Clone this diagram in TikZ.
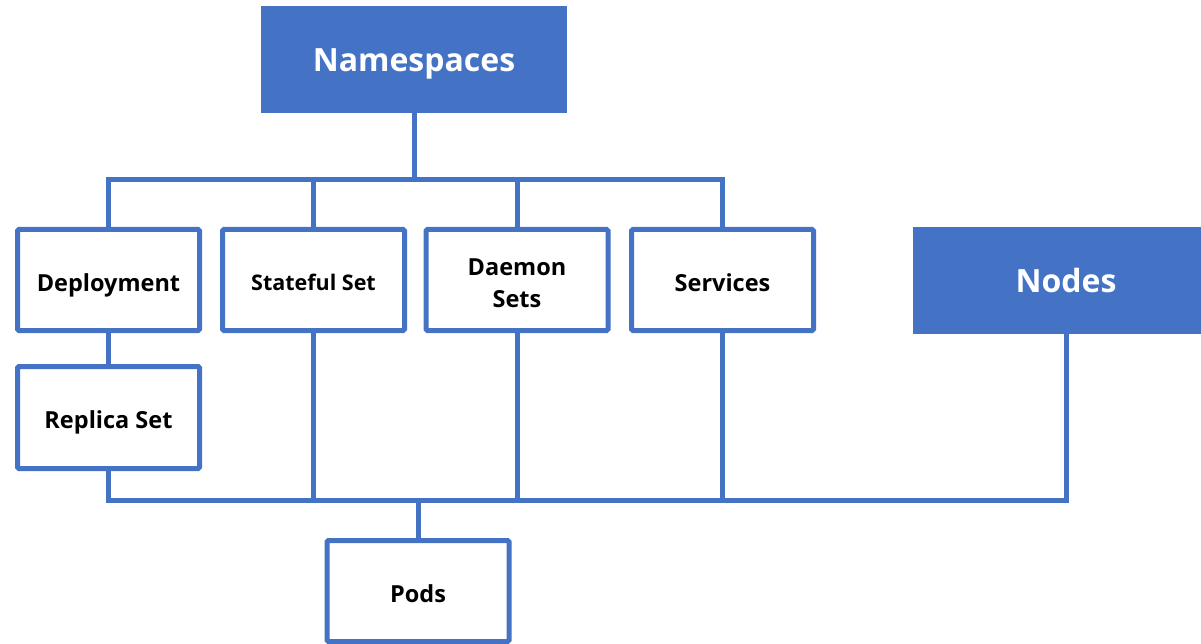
\documentclass[tikz,border=0pt]{standalone}
\usepackage{fontspec}
\setmainfont{Open Sans}
\definecolor{kblue}{HTML}{4472C4}
\begin{document}
\begin{tikzpicture}[x=1pt,y=-1pt,
  boxbase/.style={draw=kblue,line width=5pt,fill=white,rounded corners=1.5pt,minimum width=182pt,minimum height=101pt,inner sep=0pt,align=center,font=\fontsize{23.5}{32}\selectfont\bfseries,text=black},
  box/.style={boxbase,text height=22pt,text depth=0pt},
  head/.style={fill=kblue,minimum width=306pt,minimum height=107pt,inner sep=0pt,font=\fontsize{32}{36}\selectfont\bfseries,text=white,text height=23.5pt,text depth=0pt},
  conn/.style={draw=kblue,line width=5pt,line join=miter}]
\useasboundingbox (0,0) rectangle (1201,644);
\begin{scope}
\clip (0,0) rectangle (1201,644);
\node[head] (ns) at (414,59.5) {Namespaces};
\node[head] (nd) at (1066,280.5) {Nodes};
\node[box] (dep) at (108.5,280) {Deployment};
\node[box,font=\fontsize{21.5}{32}\selectfont\bfseries,text height=20pt] (ss) at (313.5,280) {Stateful Set};
\node[boxbase] (ds) at (517,280) {\rule{0pt}{24pt}Daemon\\Sets};
\node[box] (sv) at (722.5,280) {Services};
\node[box,minimum height=102pt] (rs) at (108.5,417.5) {Replica Set};
\node[box] (pods) at (418,591) {Pods};
\coordinate (tb) at (414,180);
\coordinate (bb) at (418,500);
\draw[conn] (ns.south) -- (tb);
\draw[conn] (dep.north) -- (dep.north |- tb) -- (sv.north |- tb) -- (sv.north);
\draw[conn] (ss.north) -- (ss.north |- tb);
\draw[conn] (ds.north) -- (ds.north |- tb);
\draw[conn] (dep.south) -- (rs.north);
\draw[conn] (rs.south) -- (rs.south |- bb) -- (nd.south |- bb) -- (nd.south);
\draw[conn] (ss.south) -- (ss.south |- bb);
\draw[conn] (ds.south) -- (ds.south |- bb);
\draw[conn] (sv.south) -- (sv.south |- bb);
\draw[conn] (pods.north) -- (pods.north |- bb);
\end{scope}
\end{tikzpicture}
\end{document}
